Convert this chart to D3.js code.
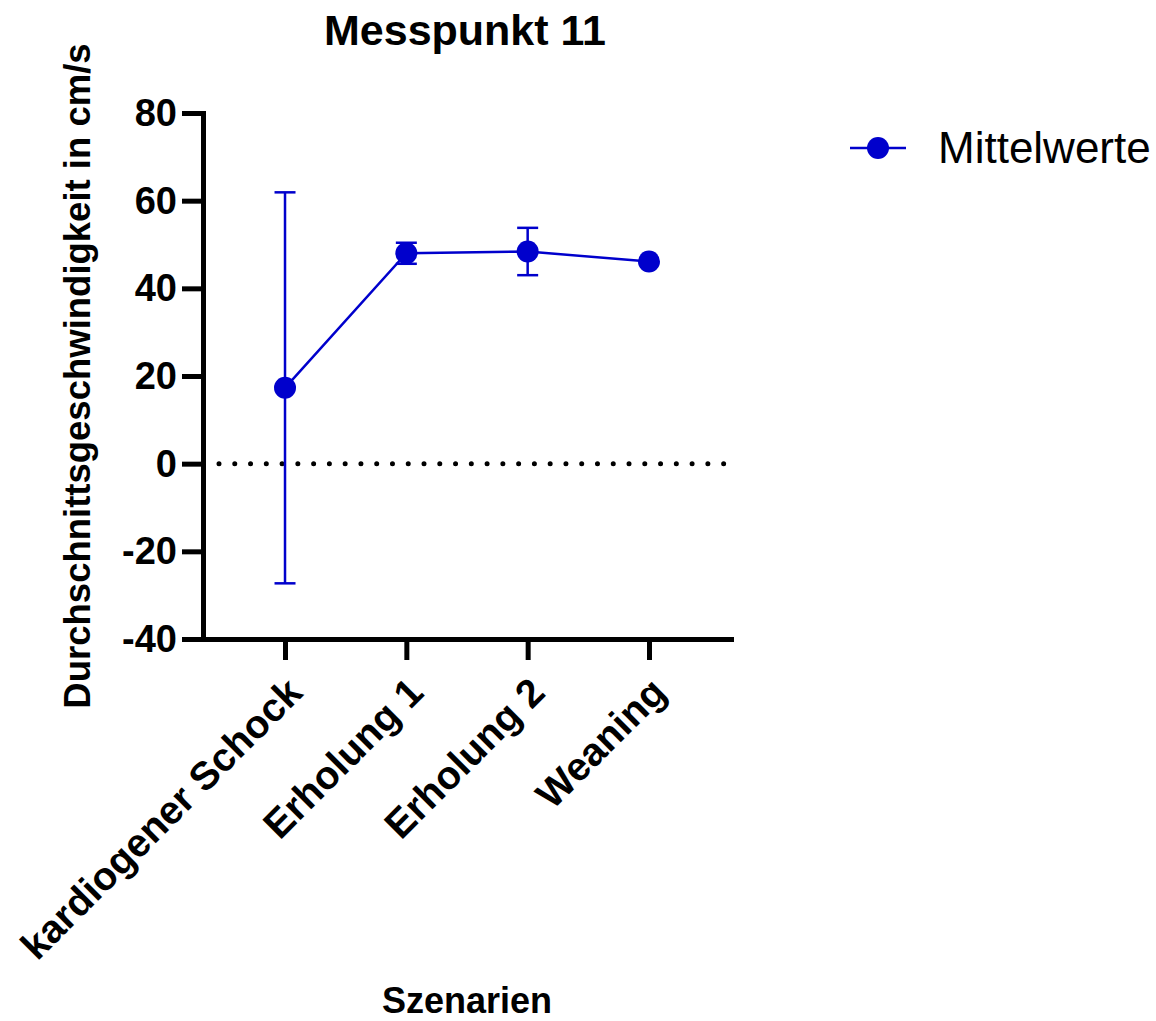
<!DOCTYPE html>
<html>
<head>
<meta charset="utf-8">
<script src="https://cdn.jsdelivr.net/npm/d3@7"></script>
<style>
  html, body { margin: 0; padding: 0; background: #fff; }
  svg { display: block; }
  text { font-family: "Liberation Sans", Arial, sans-serif; fill: #000; }
</style>
</head>
<body>
<svg id="chart" width="1156" height="1021"></svg>
<script>
// Mean flow velocity per scenario with symmetric error bars
const categories = ["kardiogener Schock", "Erholung 1", "Erholung 2", "Weaning"];
const means = [17.3, 48.0, 48.4, 46.1];
const errors = [44.6, 2.4, 5.4, 0];
const yTicks = [-40, -20, 0, 20, 40, 60, 80];
const seriesName = "Mittelwerte";

const blue = "#0000cc";
const svg = d3.select("#chart");

const plot = { left: 203, right: 731, top: 113, bottom: 639 };

const x = d3.scalePoint()
  .domain(categories)
  .range([plot.left, plot.right])
  .padding(0.676);

const y = d3.scaleLinear()
  .domain([-40, 80])
  .range([plot.bottom, plot.top]);

// Title
svg.append("text")
  .attr("x", 465).attr("y", 45)
  .attr("text-anchor", "middle")
  .style("font-size", "43px").style("font-weight", "bold")
  .text("Messpunkt 11");

// Y axis (plain hyphen for negative values)
const yAxis = svg.append("g")
  .attr("transform", `translate(${plot.left},0)`)
  .call(d3.axisLeft(y).tickValues(yTicks).tickSize(21).tickSizeOuter(0).tickPadding(5).tickFormat(d => String(d)));
yAxis.select(".domain").attr("stroke-width", 5).attr("stroke-linecap", "square");
yAxis.selectAll(".tick line").attr("stroke-width", 5);
yAxis.selectAll(".tick text")
  .style("font-size", "38px").style("font-weight", "bold")
  .attr("dy", "0.33em");

// X axis
const xAxis = svg.append("g")
  .attr("transform", `translate(0,${plot.bottom})`)
  .call(d3.axisBottom(x).tickSize(21).tickSizeOuter(0));
xAxis.select(".domain").attr("stroke-width", 5).attr("stroke-linecap", "square");
xAxis.selectAll(".tick line").attr("stroke-width", 5);
xAxis.selectAll(".tick text")
  .style("font-size", "39.5px").style("font-weight", "bold")
  .attr("text-anchor", "end")
  .attr("x", 0).attr("y", 0)
  .attr("dy", "0.35em")
  .attr("transform", "translate(9,46) rotate(-45)");

// Axis titles
svg.append("text")
  .attr("transform", `translate(90,${(plot.top + plot.bottom) / 2}) rotate(-90)`)
  .attr("text-anchor", "middle")
  .style("font-size", "36.5px").style("font-weight", "bold")
  .text("Durchschnittsgeschwindigkeit in cm/s");

svg.append("text")
  .attr("x", (plot.left + plot.right) / 2).attr("y", 1013)
  .attr("text-anchor", "middle")
  .style("font-size", "36px").style("font-weight", "bold")
  .text("Szenarien");

// Dotted reference line at zero
svg.append("line")
  .attr("x1", 219).attr("x2", plot.right)
  .attr("y1", y(0)).attr("y2", y(0))
  .attr("stroke", "#000").attr("stroke-width", 5)
  .attr("stroke-linecap", "round")
  .attr("stroke-dasharray", "0 15.77");

const data = categories.map((c, i) => ({ c, m: means[i], e: errors[i] }));

// Error bars
const eb = svg.append("g").attr("stroke", blue).attr("stroke-width", 2.5).attr("fill", "none");
data.filter(d => d.e > 0).forEach(d => {
  const cx = x(d.c);
  eb.append("line").attr("x1", cx).attr("x2", cx).attr("y1", y(d.m - d.e)).attr("y2", y(d.m + d.e));
  eb.append("line").attr("x1", cx - 10.5).attr("x2", cx + 10.5).attr("y1", y(d.m + d.e)).attr("y2", y(d.m + d.e));
  eb.append("line").attr("x1", cx - 10.5).attr("x2", cx + 10.5).attr("y1", y(d.m - d.e)).attr("y2", y(d.m - d.e));
});

// Connecting line
svg.append("path")
  .datum(data)
  .attr("fill", "none").attr("stroke", blue).attr("stroke-width", 2.5)
  .attr("d", d3.line().x(d => x(d.c)).y(d => y(d.m)));

// Markers
svg.append("g").selectAll("circle")
  .data(data).join("circle")
  .attr("cx", d => x(d.c)).attr("cy", d => y(d.m))
  .attr("r", 11).attr("fill", blue);

// Legend
const lg = svg.append("g");
lg.append("line").attr("x1", 850).attr("x2", 906).attr("y1", 148).attr("y2", 148)
  .attr("stroke", blue).attr("stroke-width", 2.5);
lg.append("circle").attr("cx", 878).attr("cy", 148).attr("r", 11).attr("fill", blue);
lg.append("text").attr("x", 938).attr("y", 163)
  .style("font-size", "44px")
  .text(seriesName);
</script>
</body>
</html>
